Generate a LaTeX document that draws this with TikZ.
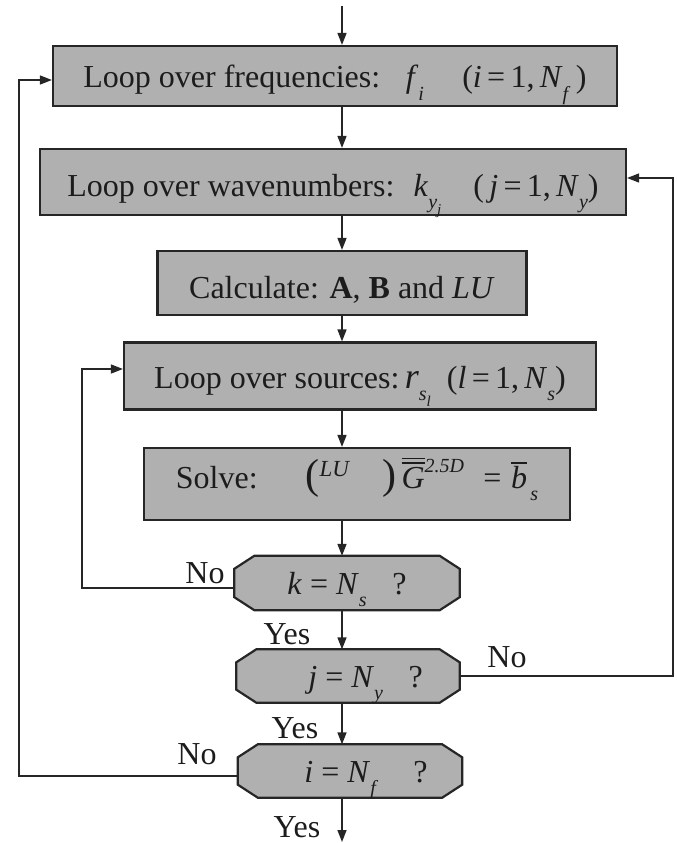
\documentclass[tikz,border=0pt]{standalone}
\usepackage{fontspec}
\setmainfont{Liberation Serif}
\usetikzlibrary{arrows.meta,backgrounds}
\definecolor{boxfill}{RGB}{176,176,176}
\definecolor{boxline}{RGB}{38,38,38}
\definecolor{ink}{RGB}{28,28,28}
\newcommand{\lowsub}[1]{\raisebox{-0.4em}{\fontsize{20}{20}\selectfont\textit{#1}}}
\newcommand{\lowsubb}[1]{\raisebox{-0.3em}{\fontsize{15}{15}\selectfont\textit{#1}}}
\newcommand{\bigpar}[1]{{\fontsize{42}{42}\selectfont #1}}
\newcommand{\dblbar}[1]{\setbox0\hbox{#1}\leavevmode\rlap{\raisebox{\dimexpr\ht0+3pt\relax}{\rule{\wd0}{1.6pt}}}\rlap{\raisebox{\dimexpr\ht0+7.5pt\relax}{\rule{\wd0}{1.6pt}}}\box0}
\newcommand{\sglbar}[1]{\setbox0\hbox{#1}\leavevmode\rlap{\raisebox{\dimexpr\ht0+2pt\relax}{\rule{\wd0}{1.6pt}}}\box0}
\newcommand{\eqs}{\hspace{0.25em}=\hspace{0.25em}}
\begin{document}
\begin{tikzpicture}[x=1pt,y=-1pt,
  font=\fontsize{32}{38}\selectfont, text=ink,
  procbox/.style={draw=boxline, fill=boxfill, line width=2.2pt, inner sep=0pt, rectangle, text depth=0pt},
  decbox/.style={inner sep=0pt, rectangle, text depth=0pt, text height=22pt},
  decshape/.style={draw=boxline, fill=boxfill, line width=2.2pt, line join=miter},
  flow/.style={draw=boxline, line width=1.6pt, -{Triangle[length=12pt,width=9pt]}},
  lbl/.style={inner sep=0pt}]
\useasboundingbox (0,0) rectangle (677,843);

\node[procbox, minimum width=564pt, minimum height=60pt, text height=24pt] (b1) at (335,76)
  {Loop over frequencies:\hspace{0.8em}\textit{f}\lowsub{i}\hspace{1.2em}(\textit{i}\,=\,1,\,\textit{N}\lowsub{f}\,)};
\node[procbox, minimum width=586pt, minimum height=66pt, text height=28pt] (b2) at (333,182)
  {Loop over wavenumbers:\hspace{0.6em}\textit{k}\lowsub{y\lowsubb{j}}\hspace{1em}(\,\textit{j}\,=\,1,\,\textit{N}\lowsub{y})};
\node[procbox, minimum width=369pt, minimum height=64pt, text height=30pt] (b3) at (342,283)
  {Calculate: \textbf{A}, \textbf{B} and \textit{LU}};
\node[procbox, minimum width=472pt, minimum height=67pt, text height=24pt] (b4) at (360,376)
  {Loop over sources:\,{\fontsize{36}{36}\selectfont\textit{r}}\lowsub{s\lowsubb{l}}\hspace{0.5em}(\textit{l}\,=\,1,\,\textit{N}\lowsub{s})};
\node[procbox, minimum width=426pt, minimum height=72pt, text height=8pt] (b5) at (357,484)
  {Solve:\hspace{1.5em}\bigpar{(}\raisebox{0.35em}{\fontsize{23}{23}\selectfont\textit{LU}}\hspace{1em}\bigpar{)}\,\dblbar{\textit{G}}\raisebox{0.5em}{\fontsize{20}{20}\selectfont\textit{2.5D}}\hspace{0.6em}=\hspace{0.3em}\sglbar{\textit{b}}\lowsub{\,s}};

\node[decbox, minimum width=225pt, minimum height=54pt] (d1) at (347,583)
  {\textit{k}\eqs\textit{N}\lowsub{s}\hspace{0.8em}?};
\node[decbox, minimum width=223pt, minimum height=53pt] (d2) at (348,676)
  {\hspace*{1.1em}\textit{j}\eqs\textit{N}\lowsub{y}\hspace{0.8em}?};
\node[decbox, minimum width=224pt, minimum height=53pt] (d3) at (350,771)
  {\hspace*{1.0em}\textit{i}\eqs\textit{N}\lowsub{f}\hspace{1.1em}?};

\begin{scope}[on background layer]
\foreach \d in {d1,d2,d3}{
  \path[decshape] ([xshift=20pt]\d.north west) -- ([xshift=-20pt]\d.north east)
    -- ([yshift=-13pt]\d.north east) -- ([yshift=13pt]\d.south east)
    -- ([xshift=-20pt]\d.south east) -- ([xshift=20pt]\d.south west)
    -- ([yshift=13pt]\d.south west) -- ([yshift=-13pt]\d.north west) -- cycle;
}
\end{scope}

\node[lbl] (no1) at (205,573) {No};
\node[lbl] (yes1) at (287,634) {Yes};
\node[lbl] (no2) at (507,657) {No};
\node[lbl] (yes2) at (295,728) {Yes};
\node[lbl] (no3) at (197,754) {No};
\node[lbl] (yes3) at (297,827) {Yes};

\coordinate (trunk) at (342,0);
\coordinate (start) at (342,6);
\coordinate (endpt) at (342,842);
\coordinate (L1) at (82,0);
\coordinate (R2) at (673,0);
\coordinate (L3) at (19,0);

\draw[flow] (start) -- (b1.north -| trunk);
\draw[flow] (b1.south -| trunk) -- (b2.north -| trunk);
\draw[flow] (b2.south -| trunk) -- (b3.north -| trunk);
\draw[flow] (b3.south -| trunk) -- (b4.north -| trunk);
\draw[flow] (b4.south -| trunk) -- (b5.north -| trunk);
\draw[flow] (b5.south -| trunk) -- (d1.north -| trunk);
\draw[flow] (d1.south -| trunk) -- (d2.north -| trunk);
\draw[flow] (d2.south -| trunk) -- (d3.north -| trunk);
\draw[flow] (d3.south -| trunk) -- (endpt);

\draw[flow] ([yshift=-5pt]d1.west) -- ([yshift=-5pt]d1.west -| L1) -- ([yshift=7pt]b4.west -| L1) -- ([yshift=7pt]b4.west);
\draw[flow] (d2.east) -- (d2.east -| R2) -- ([yshift=4pt]b2.east -| R2) -- ([yshift=4pt]b2.east);
\draw[flow] ([yshift=-5pt]d3.west) -- ([yshift=-5pt]d3.west -| L3) -- ([yshift=-4pt]b1.west -| L3) -- ([yshift=-4pt]b1.west);
\end{tikzpicture}
\end{document}
